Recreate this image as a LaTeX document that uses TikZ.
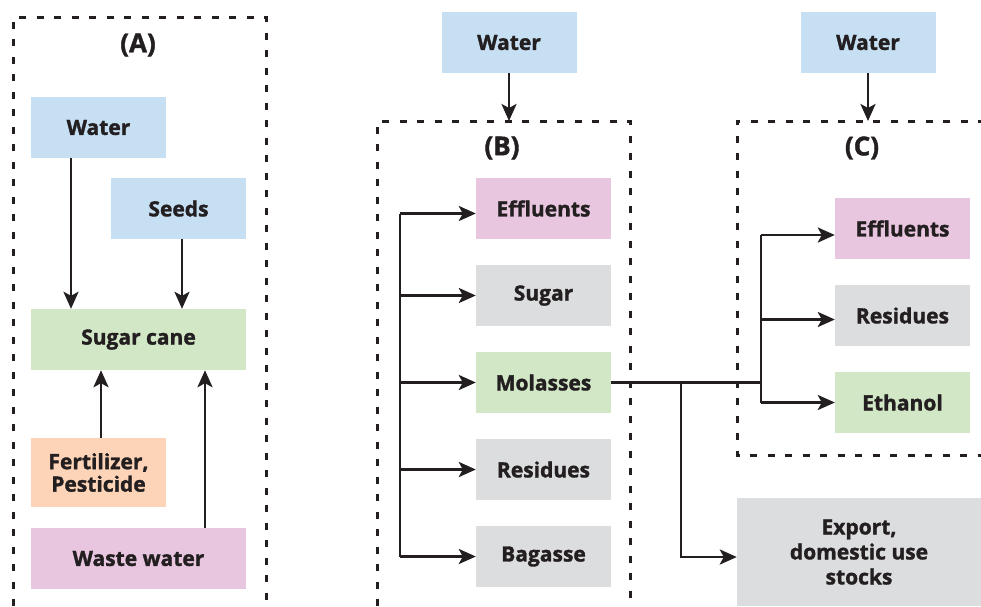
\documentclass[tikz,border=0pt]{standalone}
\usepackage{fontspec}
\setmainfont{Open Sans}[BoldFeatures={FakeBold=1.5}]
\usetikzlibrary{arrows.meta}
\definecolor{txt}{HTML}{231F20}
\definecolor{cblue}{HTML}{C6DFF3}
\definecolor{cgreen}{HTML}{D1E7C6}
\definecolor{cpink}{HTML}{E8C6DF}
\definecolor{cgray}{HTML}{DCDDDF}
\definecolor{cpeach}{HTML}{FDD4B8}
\tikzset{
  box/.style={draw=none, minimum width=135pt, minimum height=61pt, inner sep=0pt, align=center,
    font=\fontsize{21}{22.5}\selectfont\bfseries, text=txt},
  widebox/.style={box, minimum width=215pt},
  lbl/.style={font=\fontsize{26}{28}\selectfont\bfseries, text=txt, inner sep=0pt},
  conn/.style={line width=2.8pt, draw=txt},
  arr/.style={conn, -{Stealth[length=17pt, width=15pt, inset=4pt]}},
  frame/.style={line width=3pt, dash pattern=on 7pt off 10.5pt, draw=txt}
}
\begin{document}
\begin{tikzpicture}[x=1pt, y=-1pt]
\useasboundingbox (0,0) rectangle (981,606);
% frames
\draw[frame] (13,606) -- (13,17) -- (266,17) -- (266,606);
\draw[frame] (377,606) -- (377,121) -- (630,121) -- (630,606);
\draw[frame] (985,121) -- (737,121) -- (737,455) -- (985,455);
% labels
\node[lbl] (lA) at (138,45) {(A)};
\node[lbl] (lB) at (502,148) {(B)};
\node[lbl] (lC) at (862,148) {(C)};
% (A)
\node[box, fill=cblue] (wA) at (98.5,127.5) {Water};
\node[box, fill=cblue] (sA) at (178.5,208.5) {Seeds};
\node[widebox, fill=cgreen] (cane) at (138.5,339.5) {Sugar cane};
\node[box, fill=cpeach, minimum height=69pt] (fert) at (98.5,472.5) {Fertilizer,\\Pesticide};
\node[widebox, fill=cpink] (waste) at (138.5,558.5) {Waste water};
\draw[arr] ([xshift=-27.5pt]wA.south) -- ([xshift=-27.5pt]wA.south |- cane.north);
\draw[arr] ([xshift=3.5pt]sA.south) -- ([xshift=3.5pt]sA.south |- cane.north);
\draw[arr] ([xshift=2.5pt]fert.north) -- ([xshift=2.5pt]fert.north |- cane.south);
\draw[arr] ([xshift=66.5pt]waste.north) -- ([xshift=66.5pt]waste.north |- cane.south);
% (B)
\node[box, fill=cblue] (wB) at (509,42.5) {Water};
\coordinate (bTop) at (509,121);
\draw[arr] (wB.south) -- (bTop);
\node[box, fill=cpink] (eB) at (543.5,208.5) {Effluents};
\node[box, fill=cgray] (sB) at (543.5,295.5) {Sugar};
\node[box, fill=cgreen] (mB) at (543.5,382.5) {Molasses};
\node[box, fill=cgray] (rB) at (543.5,469.5) {Residues};
\node[box, fill=cgray] (bB) at (543.5,556.5) {Bagasse};
\coordinate (tB) at (400,0);
\draw[conn] ([yshift=-5pt]eB.west -| tB) -- (bB.west -| tB);
\draw[arr] ([yshift=-5pt]eB.west -| tB) -- ([yshift=-5pt]eB.west);
\draw[arr] (sB.west -| tB) -- (sB.west);
\draw[arr] (mB.west -| tB) -- (mB.west);
\draw[arr] (rB.west -| tB) -- (rB.west);
\draw[arr] (bB.west -| tB) -- (bB.west);
% (C)
\node[box, fill=cblue] (wC) at (868,42.5) {Water};
\coordinate (cTop) at (868,121);
\draw[arr] (wC.south) -- (cTop);
\node[box, fill=cpink] (eC) at (902.5,228.5) {Effluents};
\node[box, fill=cgray] (rC) at (902.5,315.5) {Residues};
\node[box, fill=cgreen] (etC) at (902.5,402.5) {Ethanol};
\node[box, fill=cgray, minimum width=244pt, minimum height=108pt, font=\fontsize{21}{25}\selectfont\bfseries] (ex) at (859,552) {Export,\\domestic use\\stocks};
\coordinate (tC) at (761,0);
\coordinate (jx) at (681,0);
\draw[conn] (mB.east) -- (mB.east -| tC);
\draw[conn] ([yshift=-6.5pt]eC.west -| tC) -- (etC.west -| tC);
\draw[arr] ([yshift=-6.5pt]eC.west -| tC) -- ([yshift=-6.5pt]eC.west);
\draw[arr] ([yshift=-4pt]rC.west -| tC) -- ([yshift=-4pt]rC.west);
\draw[arr] (etC.west -| tC) -- (etC.west);
\draw[arr] (mB.east -| jx) |- ([yshift=-5pt]ex.west);
\end{tikzpicture}
\end{document}
